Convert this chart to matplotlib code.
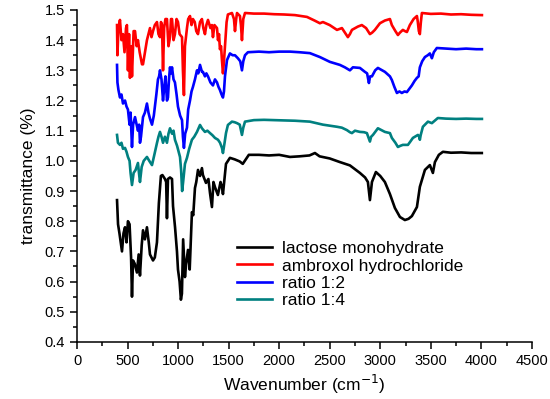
import matplotlib
matplotlib.use('Agg')
import matplotlib.pyplot as plt
from matplotlib.ticker import MultipleLocator

# lactose monohydrate
lactose_wn = [396, 406, 420, 445, 460, 475, 490, 504, 520, 535, 544, 554, 570, 593, 610, 623, 640, 653, 672, 692,
              710, 722, 752, 770, 791, 810, 830, 845, 870, 882, 890, 900, 920, 940, 950, 970, 989, 999, 1015, 1028,
              1038, 1050, 1068, 1080, 1098, 1115, 1137, 1150, 1167, 1180, 1197, 1217, 1236, 1246, 1276, 1300, 1316,
              1335, 1350, 1365, 1394, 1420, 1434, 1444, 1474, 1513, 1560, 1610, 1640, 1670, 1700, 1800, 1900, 2000,
              2107, 2200, 2300, 2354, 2400, 2500, 2601, 2700, 2799, 2850, 2878, 2898, 2918, 2957, 3000, 3046, 3096,
              3145, 3195, 3244, 3280, 3313, 3363, 3392, 3442, 3491, 3521, 3541, 3580, 3620, 3700, 3800, 3900, 4005]
lactose_t = [0.87, 0.79, 0.76, 0.70, 0.76, 0.78, 0.73, 0.80, 0.79, 0.68, 0.55, 0.67, 0.66, 0.63, 0.69, 0.62, 0.72,
             0.77, 0.74, 0.78, 0.73, 0.69, 0.67, 0.68, 0.73, 0.86, 0.95, 0.953, 0.94, 0.93, 0.81, 0.94, 0.945, 0.94,
             0.85, 0.78, 0.70, 0.64, 0.60, 0.54, 0.56, 0.74, 0.615, 0.66, 0.705, 0.64, 0.83, 0.82, 0.91, 0.93, 0.97,
             0.95, 0.976, 0.953, 0.927, 0.94, 0.893, 0.847, 0.93, 0.913, 0.887, 0.93, 0.913, 0.89, 0.99, 1.01, 1.005,
             0.998, 0.99, 1.005, 1.02, 1.02, 1.018, 1.02, 1.013, 1.015, 1.018, 1.026, 1.015, 1.008, 0.996, 0.985,
             0.96, 0.945, 0.93, 0.87, 0.93, 0.963, 0.95, 0.93, 0.89, 0.844, 0.814, 0.804, 0.808, 0.817, 0.847, 0.914,
             0.97, 0.986, 0.96, 0.996, 1.02, 1.03, 1.027, 1.028, 1.026, 1.026]

# ambroxol hydrochloride
ambroxol_wn = [396, 400, 410, 425, 440, 455, 470, 485, 494, 504, 515, 524, 535, 544, 560, 574, 590, 603, 620, 643,
               653, 672, 692, 707, 722, 737, 752, 770, 791, 806, 821, 831, 841, 851, 862, 875, 890, 905, 920, 930,
               940, 955, 969, 985, 999, 1015, 1039, 1048, 1058, 1068, 1088, 1100, 1118, 1133, 1147, 1165, 1180, 1197,
               1217, 1236, 1250, 1266, 1280, 1296, 1320, 1335, 1345, 1360, 1385, 1395, 1405, 1414, 1425, 1434, 1444,
               1454, 1464, 1480, 1493, 1533, 1553, 1563, 1575, 1583, 1612, 1622, 1632, 1645, 1662, 1750, 1850, 1950,
               2050, 2156, 2275, 2350, 2403, 2433, 2500, 2572, 2621, 2650, 2680, 2700, 2720, 2779, 2818, 2860, 2898,
               2920, 2947, 2997, 3046, 3096, 3115, 3150, 3175, 3195, 3224, 3244, 3264, 3293, 3330, 3363, 3372, 3382,
               3392, 3402, 3412, 3500, 3600, 3700, 3800, 3900, 4006]
ambroxol_t = [1.45, 1.35, 1.44, 1.467, 1.40, 1.42, 1.36, 1.44, 1.45, 1.30, 1.42, 1.275, 1.38, 1.28, 1.43, 1.43, 1.38,
              1.40, 1.36, 1.32, 1.32, 1.36, 1.40, 1.42, 1.44, 1.41, 1.43, 1.45, 1.46, 1.42, 1.41, 1.46, 1.45, 1.30,
              1.44, 1.47, 1.47, 1.38, 1.41, 1.47, 1.47, 1.40, 1.42, 1.47, 1.46, 1.42, 1.41, 1.30, 1.218, 1.38, 1.44,
              1.47, 1.48, 1.45, 1.47, 1.46, 1.43, 1.42, 1.46, 1.47, 1.44, 1.42, 1.45, 1.467, 1.44, 1.45, 1.41, 1.45,
              1.44, 1.40, 1.42, 1.37, 1.38, 1.334, 1.29, 1.33, 1.38, 1.46, 1.485, 1.49, 1.47, 1.43, 1.47, 1.49, 1.48,
              1.45, 1.40, 1.47, 1.49, 1.488, 1.488, 1.486, 1.485, 1.483, 1.477, 1.465, 1.456, 1.46, 1.45, 1.434,
              1.44, 1.425, 1.41, 1.42, 1.434, 1.445, 1.45, 1.44, 1.42, 1.425, 1.434, 1.456, 1.465, 1.47, 1.45, 1.43,
              1.417, 1.425, 1.434, 1.43, 1.427, 1.45, 1.47, 1.48, 1.46, 1.43, 1.42, 1.46, 1.49, 1.487, 1.488, 1.485,
              1.486, 1.484, 1.483]

# ratio 1:2
ratio12_wn = [396, 400, 410, 425, 440, 455, 475, 490, 504, 520, 530, 544, 555, 574, 590, 603, 615, 623, 633, 653,
              672, 692, 707, 722, 742, 760, 771, 785, 801, 812, 821, 836, 851, 862, 875, 890, 900, 910, 920, 930,
              940, 955, 969, 985, 999, 1020, 1039, 1048, 1058, 1070, 1088, 1100, 1118, 1133, 1147, 1167, 1187, 1200,
              1217, 1236, 1246, 1266, 1280, 1296, 1320, 1345, 1365, 1385, 1400, 1414, 1430, 1444, 1454, 1464, 1484,
              1513, 1540, 1563, 1592, 1615, 1632, 1645, 1662, 1691, 1800, 1900, 2000, 2107, 2200, 2304, 2403, 2502,
              2601, 2650, 2700, 2730, 2799, 2848, 2870, 2888, 2900, 2918, 2950, 2977, 3020, 3046, 3096, 3115, 3140,
              3165, 3190, 3214, 3240, 3264, 3290, 3313, 3340, 3363, 3380, 3392, 3415, 3442, 3470, 3491, 3511, 3530,
              3560, 3650, 3750, 3850, 3950, 4006]
ratio12_t = [1.318, 1.26, 1.235, 1.21, 1.22, 1.19, 1.20, 1.18, 1.17, 1.12, 1.16, 1.046, 1.12, 1.145, 1.12, 1.10,
             1.12, 1.06, 1.08, 1.145, 1.16, 1.19, 1.16, 1.14, 1.12, 1.15, 1.18, 1.22, 1.27, 1.28, 1.30, 1.27, 1.20,
             1.24, 1.28, 1.20, 1.21, 1.27, 1.31, 1.29, 1.31, 1.27, 1.26, 1.22, 1.18, 1.15, 1.135, 1.08, 1.043, 1.09,
             1.11, 1.17, 1.20, 1.23, 1.245, 1.27, 1.30, 1.29, 1.318, 1.295, 1.295, 1.28, 1.29, 1.28, 1.26, 1.25,
             1.27, 1.26, 1.245, 1.235, 1.22, 1.21, 1.23, 1.28, 1.334, 1.356, 1.35, 1.35, 1.34, 1.33, 1.30, 1.33,
             1.35, 1.36, 1.362, 1.36, 1.362, 1.362, 1.36, 1.357, 1.344, 1.328, 1.318, 1.31, 1.30, 1.31, 1.308, 1.295,
             1.29, 1.258, 1.28, 1.28, 1.30, 1.308, 1.30, 1.295, 1.28, 1.268, 1.245, 1.225, 1.23, 1.225, 1.23, 1.228,
             1.24, 1.25, 1.265, 1.275, 1.28, 1.31, 1.33, 1.344, 1.35, 1.356, 1.34, 1.36, 1.374, 1.372, 1.37, 1.372,
             1.37, 1.37]

# ratio 1:4
ratio14_wn = [396, 405, 425, 440, 455, 475, 490, 504, 520, 530, 544, 560, 580, 603, 613, 623, 640, 660, 692, 715,
              742, 765, 791, 806, 821, 836, 851, 870, 890, 905, 920, 940, 955, 969, 990, 1019, 1030, 1040, 1050,
              1068, 1088, 1110, 1137, 1160, 1187, 1217, 1236, 1266, 1290, 1316, 1340, 1365, 1395, 1415, 1434, 1444,
              1460, 1474, 1493, 1533, 1560, 1583, 1610, 1632, 1645, 1662, 1750, 1850, 1950, 2050, 2156, 2304, 2433,
              2572, 2620, 2670, 2700, 2720, 2750, 2799, 2840, 2868, 2898, 2910, 2928, 2977, 3046, 3096, 3115, 3150,
              3175, 3200, 3224, 3274, 3300, 3323, 3373, 3385, 3392, 3400, 3422, 3472, 3511, 3570, 3650, 3750, 3850,
              3950, 4006]
ratio14_t = [1.086, 1.06, 1.053, 1.06, 1.04, 1.043, 1.03, 1.013, 1.0, 0.96, 0.92, 0.96, 0.97, 0.993, 0.96, 0.93,
             0.98, 1.0, 1.013, 1.0, 0.986, 1.02, 1.059, 1.08, 1.096, 1.08, 1.06, 1.08, 1.06, 1.09, 1.108, 1.09, 1.10,
             1.07, 1.05, 1.013, 0.97, 0.90, 0.93, 0.99, 1.01, 1.04, 1.07, 1.08, 1.096, 1.119, 1.108, 1.096, 1.10,
             1.092, 1.085, 1.076, 1.07, 1.06, 1.043, 1.026, 1.06, 1.092, 1.119, 1.13, 1.128, 1.125, 1.12, 1.086,
             1.11, 1.13, 1.135, 1.136, 1.135, 1.134, 1.133, 1.13, 1.12, 1.113, 1.11, 1.102, 1.095, 1.092, 1.10,
             1.096, 1.095, 1.092, 1.064, 1.08, 1.086, 1.108, 1.096, 1.092, 1.076, 1.06, 1.046, 1.05, 1.053, 1.053,
             1.065, 1.076, 1.086, 1.08, 1.07, 1.085, 1.113, 1.13, 1.125, 1.142, 1.14, 1.139, 1.14, 1.139, 1.139]

plt.rcParams['font.family'] = ['Liberation Sans', 'DejaVu Sans']

fig = plt.figure(figsize=(5.5, 3.99), dpi=100)
ax = fig.add_axes([0.14, 0.143, 0.827, 0.832])

ax.plot(lactose_wn, lactose_t, color='black', lw=1.9, label='lactose monohydrate')
ax.plot(ambroxol_wn, ambroxol_t, color='#ff0000', lw=1.9, label='ambroxol hydrochloride')
ax.plot(ratio12_wn, ratio12_t, color='#0000ff', lw=1.9, label='ratio 1:2')
ax.plot(ratio14_wn, ratio14_t, color='#008080', lw=1.9, label='ratio 1:4')

ax.set_xlim(0, 4500)
ax.set_ylim(0.4, 1.5)
ax.xaxis.set_major_locator(MultipleLocator(500))
ax.xaxis.set_minor_locator(MultipleLocator(250))
ax.yaxis.set_major_locator(MultipleLocator(0.1))
ax.yaxis.set_minor_locator(MultipleLocator(0.05))
ax.yaxis.set_major_formatter(plt.FormatStrFormatter('%.1f'))
ax.spines['top'].set_visible(False)
ax.spines['right'].set_visible(False)
for s in ['left', 'bottom']:
    ax.spines[s].set_linewidth(1.1)
ax.tick_params(which='major', direction='out', length=5, width=1.1, labelsize=10.5)
ax.tick_params(which='minor', direction='out', length=3, width=1.1)

ax.set_xlabel('Wavenumber (cm$^{-1}$)', fontsize=12.5, labelpad=4)
ax.set_ylabel('transmittance (%)', fontsize=12.5, labelpad=6)

ax.legend(loc='center left', bbox_to_anchor=(0.352, 0.203), frameon=False, fontsize=12.5,
          handlelength=2.0, handletextpad=0.6, labelspacing=0.12, borderpad=0, borderaxespad=0)

fig.savefig('out.png', dpi=100)
